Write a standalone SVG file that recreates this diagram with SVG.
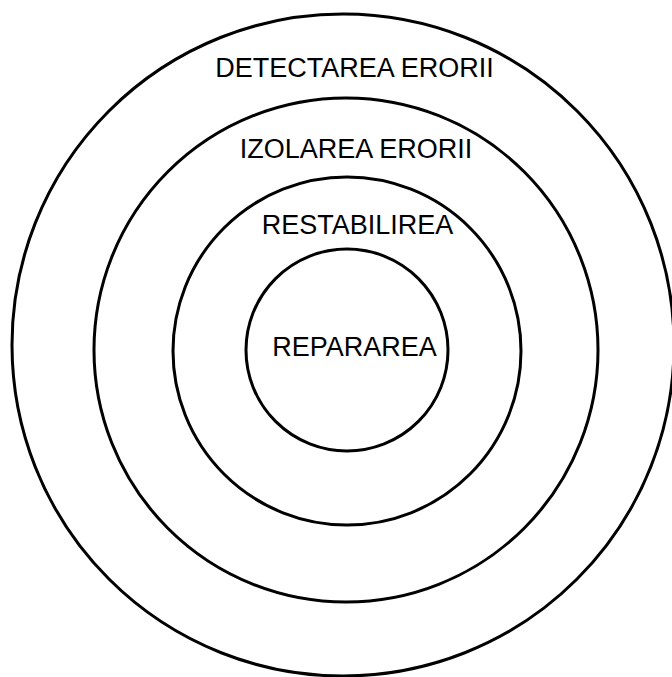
<svg xmlns="http://www.w3.org/2000/svg" width="672" height="677" viewBox="0 0 672 677">
<style>
.ring{fill:none;stroke:#000;stroke-width:3}
.lbl{font-family:"Liberation Sans",Arial,sans-serif;font-size:27px;fill:#000;text-anchor:middle}
</style>
<rect width="672" height="677" fill="#fff"/>
<g id="detectarea"><circle class="ring" cx="343" cy="345" r="331"/><text class="lbl" x="354.5" y="77">DETECTAREA ERORII</text></g>
<g id="izolarea"><circle class="ring" cx="346" cy="350" r="252"/><text class="lbl" x="356" y="158">IZOLAREA ERORII</text></g>
<g id="restabilirea"><circle class="ring" cx="347" cy="351" r="174"/><text class="lbl" x="357.5" y="234">RESTABILIREA</text></g>
<g id="repararea"><circle class="ring" cx="347" cy="350" r="101"/><text class="lbl" x="354.5" y="356">REPARAREA</text></g>
<g id="connectors"/>
</svg>
